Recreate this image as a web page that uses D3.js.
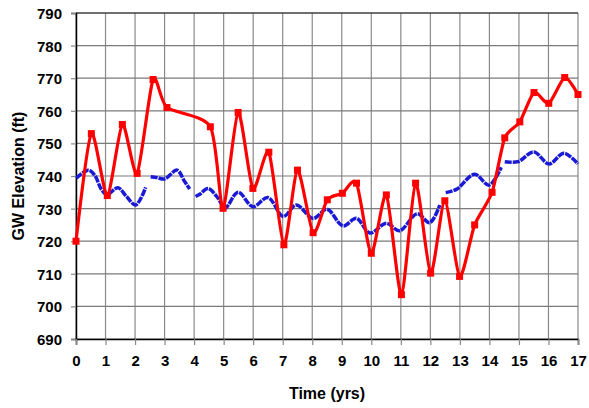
<!DOCTYPE html>
<html>
<head>
<meta charset="utf-8">
<script src="https://d3js.org/d3.v7.min.js"></script>
<style>
  body { margin: 0; background: #fff; }
</style>
</head>
<body>
<script>
// observed heads (red, squares)
var obsX = [0, 0.52, 1.06, 1.57, 2.07, 2.61, 3.08, 4.55, 4.98, 5.49, 5.99, 6.53, 7.04, 7.5, 8.03, 8.51, 9.02, 9.5,
            10.0, 10.51, 11.02, 11.5, 12.01, 12.49, 12.99, 13.5, 14.09, 14.52, 15.03, 15.51, 16.01, 16.55, 17];
var obsY = [720, 753, 734, 755.8, 740.8, 769.6, 761, 755.1, 730.1, 759.5, 736.2, 747.3, 718.9, 741.8, 722.6, 732.7, 734.7, 737.8,
            716.3, 734.2, 703.6, 737.8, 710.2, 732.4, 709.2, 725, 735, 751.7, 756.6, 765.6, 762.3, 770.2, 765];

// simulated heads (blue dashed), null = break in the line
var simX = [0.01, 0.41, 0.63, 0.86, 1.05, 1.42, 1.71, 2.02, 2.36, 2.45,
            2.53, 2.74, 3.0, 3.42, 3.68, 3.85, 3.95,
            4.05, 4.19, 4.47, 4.81, 5.04, 5.49, 5.99, 6.5, 7.02, 7.46, 8.03, 8.5, 9.04, 9.5, 9.95, 10.51, 10.96, 11.55, 11.98, 12.32, 12.42,
            12.52, 12.88, 13.5, 13.99, 14.4, 14.46,
            14.52, 14.97, 15.5, 16.02, 16.52, 17.0];
var simY = [739.3, 741.8, 740.3, 735.9, 734.3, 736.4, 733.7, 731.1, 736.5, null,
            739.8, 739.5, 739.1, 741.8, 738.3, 736, null,
            733.7, 734.4, 736.2, 733.2, 730.1, 735, 730.6, 733.4, 727.6, 731.1, 727, 729.8, 724.7, 727, 722.5, 725.5, 723.2, 728.4, 725.7, 731.1, null,
            734.9, 735.9, 740.5, 737.2, 742.7, null,
            744.4, 744.4, 747.4, 743.7, 747, 743.7];

var xTicks = d3.range(0, 18);
var yTicks = d3.range(690, 791, 10);

var width = 589, height = 408;
var margin = { top: 13, right: 11, bottom: 69, left: 76 };
var innerWidth = width - margin.left - margin.right,
    innerHeight = height - margin.top - margin.bottom;
var font = '"Liberation Sans", Arial, sans-serif';

var svg = d3.select('body').append('svg')
            .attr('width', width)
            .attr('height', height);

var g = svg.append('g')
           .attr('transform', 'translate(' + [margin.left, margin.top] + ')');

var x = d3.scaleLinear().domain([0, 17]).range([0, innerWidth]);
var y = d3.scaleLinear().domain([690, 790]).range([innerHeight, 0]);

// grid
g.selectAll('.vgrid').data(xTicks).enter().append('line')
 .attr('x1', function(d){ return x(d); }).attr('x2', function(d){ return x(d); })
 .attr('y1', 0).attr('y2', innerHeight)
 .style('stroke', '#8a8a8a').style('stroke-width', 1.2);
g.selectAll('.hgrid').data(yTicks).enter().append('line')
 .attr('y1', function(d){ return y(d); }).attr('y2', function(d){ return y(d); })
 .attr('x1', 0).attr('x2', innerWidth)
 .style('stroke', '#7a7a7a').style('stroke-width', 1.2);

// frame
g.append('line').attr('x1', 0).attr('x2', innerWidth).attr('y1', 0).attr('y2', 0)
 .style('stroke', '#222').style('stroke-width', 1.2);

// axes
var yAxis = d3.axisLeft(y).tickValues(yTicks).tickSize(5).tickPadding(9);
var xAxis = d3.axisBottom(x).tickValues(xTicks).tickSize(6).tickPadding(10);

var ya = g.append('g').call(yAxis);
var xa = g.append('g').attr('transform', 'translate(0,' + innerHeight + ')').call(xAxis);
[ya, xa].forEach(function(a) {
  a.attr('font-size', 15).attr('font-family', font).attr('font-weight', 'bold');
  a.select('.domain').style('stroke', '#000').style('stroke-width', 1.5);
  a.selectAll('.tick line').style('stroke', '#888').style('stroke-width', 1.2);
  a.selectAll('text').attr('fill', '#000');
});
ya.selectAll('text').attr('dy', '0.36em');

// titles
svg.append('text').attr('x', margin.left + innerWidth / 2).attr('y', 399)
   .attr('text-anchor', 'middle').attr('font-size', 16).attr('font-family', font).attr('font-weight', 'bold')
   .text('Time (yrs)');
svg.append('text').attr('transform', 'translate(24,' + (margin.top + innerHeight / 2) + ') rotate(-90)')
   .attr('text-anchor', 'middle').attr('font-size', 16).attr('font-family', font).attr('font-weight', 'bold')
   .text('GW Elevation (ft)');

// simulated
var sim = simX.map(function(d, i){ return { x: d, y: simY[i] }; });
var simLine = d3.line()
  .defined(function(d){ return d.y !== null; })
  .x(function(d){ return x(d.x); })
  .y(function(d){ return y(d.y); })
  .curve(d3.curveCatmullRom.alpha(0.5));
g.append('path').datum(sim).attr('d', simLine)
 .style('fill', 'none').style('stroke', '#1a1ad6').style('stroke-width', 3.5)
 .style('stroke-dasharray', '7,1');

// observed
var obs = obsX.map(function(d, i){ return { x: d, y: obsY[i] }; });
var obsLine = d3.line()
  .x(function(d){ return x(d.x); })
  .y(function(d){ return y(d.y); })
  .curve(d3.curveCardinal.tension(0.3));
g.append('path').datum(obs).attr('d', obsLine)
 .style('fill', 'none').style('stroke', '#ff0000').style('stroke-width', 3.2);
g.selectAll('.pt').data(obs).enter().append('rect')
 .attr('x', function(d){ return x(d.x) - 3.5; })
 .attr('y', function(d){ return y(d.y) - 3.5; })
 .attr('width', 7).attr('height', 7)
 .style('fill', '#ff0000');
</script>
</body>
</html>
